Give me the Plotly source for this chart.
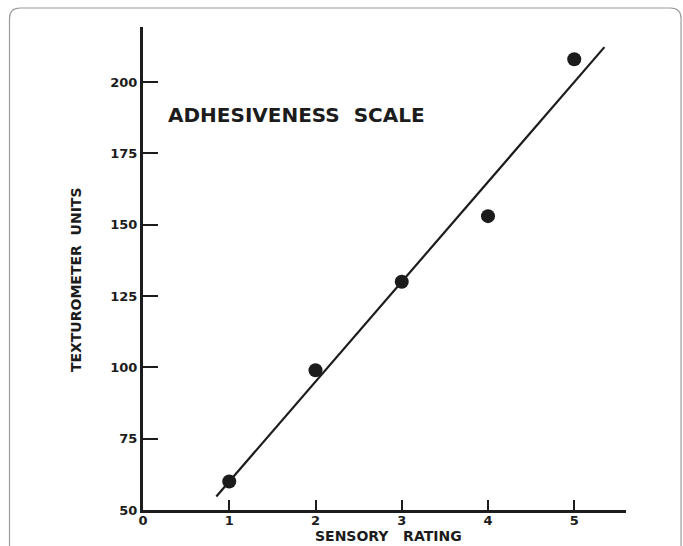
import numpy as np
import plotly.graph_objects as go

# Data
sensory_rating = [1, 2, 3, 4, 5]
texturometer_units = [60, 99, 130, 153, 208]
fit_x_range = [0.85, 5.35]          # extent of the drawn regression line
x_ticks = [0, 1, 2, 3, 4, 5]
y_ticks = [50, 75, 100, 125, 150, 175, 200]

slope, intercept = np.polyfit(sensory_rating, texturometer_units, 1)
fit_y = [slope * x + intercept for x in fit_x_range]

INK = "#1c1c1c"
FONT = "DejaVu Sans"

fig = go.Figure()
fig.add_trace(go.Scatter(
    x=fit_x_range, y=fit_y, mode="lines",
    line=dict(color=INK, width=2.2), hoverinfo="skip", showlegend=False))
fig.add_trace(go.Scatter(
    x=sensory_rating, y=texturometer_units, mode="markers",
    marker=dict(color=INK, size=14, line=dict(width=0)), showlegend=False))

# rounded page border (paper units: 483 px per unit in both directions)
L, R, T, B = -0.2764, 1.114, 1.0393, -0.12
r = 0.022
path = (f"M {L+r},{T} L {R-r},{T} Q {R},{T} {R},{T-r} L {R},{B} "
        f"L {L},{B} L {L},{T-r} Q {L},{T} {L+r},{T} Z")

fig.update_layout(
    width=683, height=546,
    margin=dict(l=143, r=57, t=27, b=36),
    paper_bgcolor="white", plot_bgcolor="white",
    font=dict(family=FONT, color=INK),
    shapes=[dict(type="path", path=path, xref="paper", yref="paper",
                 line=dict(color="#9a9a9a", width=1.2), layer="below")],
    annotations=[
        dict(text="<b>ADHESIVENESS  SCALE</b>", xref="x", yref="y",
             x=0.27, y=188.4, xanchor="left", yanchor="middle",
             showarrow=False, font=dict(size=20, color=INK, family=FONT)),
        dict(text="<b>SENSORY   RATING</b>", xref="paper", yref="paper",
             x=0.509, y=-0.0745, xanchor="center", yanchor="bottom",
             showarrow=False, font=dict(size=14, color=INK, family=FONT)),
        dict(text="<b>TEXTUROMETER  UNITS</b>", xref="paper", yref="paper",
             x=-0.1387, y=0.476, xanchor="center", yanchor="middle", textangle=-90,
             showarrow=False, font=dict(size=14, color=INK, family=FONT)),
    ],
    xaxis=dict(range=[0, 5.6], tickvals=x_ticks, ticktext=[str(v) for v in x_ticks],
               automargin=False,
               showline=True, linewidth=3, linecolor=INK, showgrid=False, zeroline=False,
               ticks="inside", ticklen=10, tickwidth=1.6, tickcolor=INK,
               ticklabelstandoff=-4,
               tickfont=dict(size=13, family=FONT, color=INK, weight="bold")),
    yaxis=dict(range=[50, 219.3], tickvals=y_ticks, ticktext=[str(v) for v in y_ticks],
               automargin=False,
               showline=True, linewidth=3, linecolor=INK, showgrid=False, zeroline=False,
               ticks="inside", ticklen=15, tickwidth=1.6, tickcolor=INK,
               tickfont=dict(size=13, family=FONT, color=INK, weight="bold")),
)

fig.write_html("out.html")
